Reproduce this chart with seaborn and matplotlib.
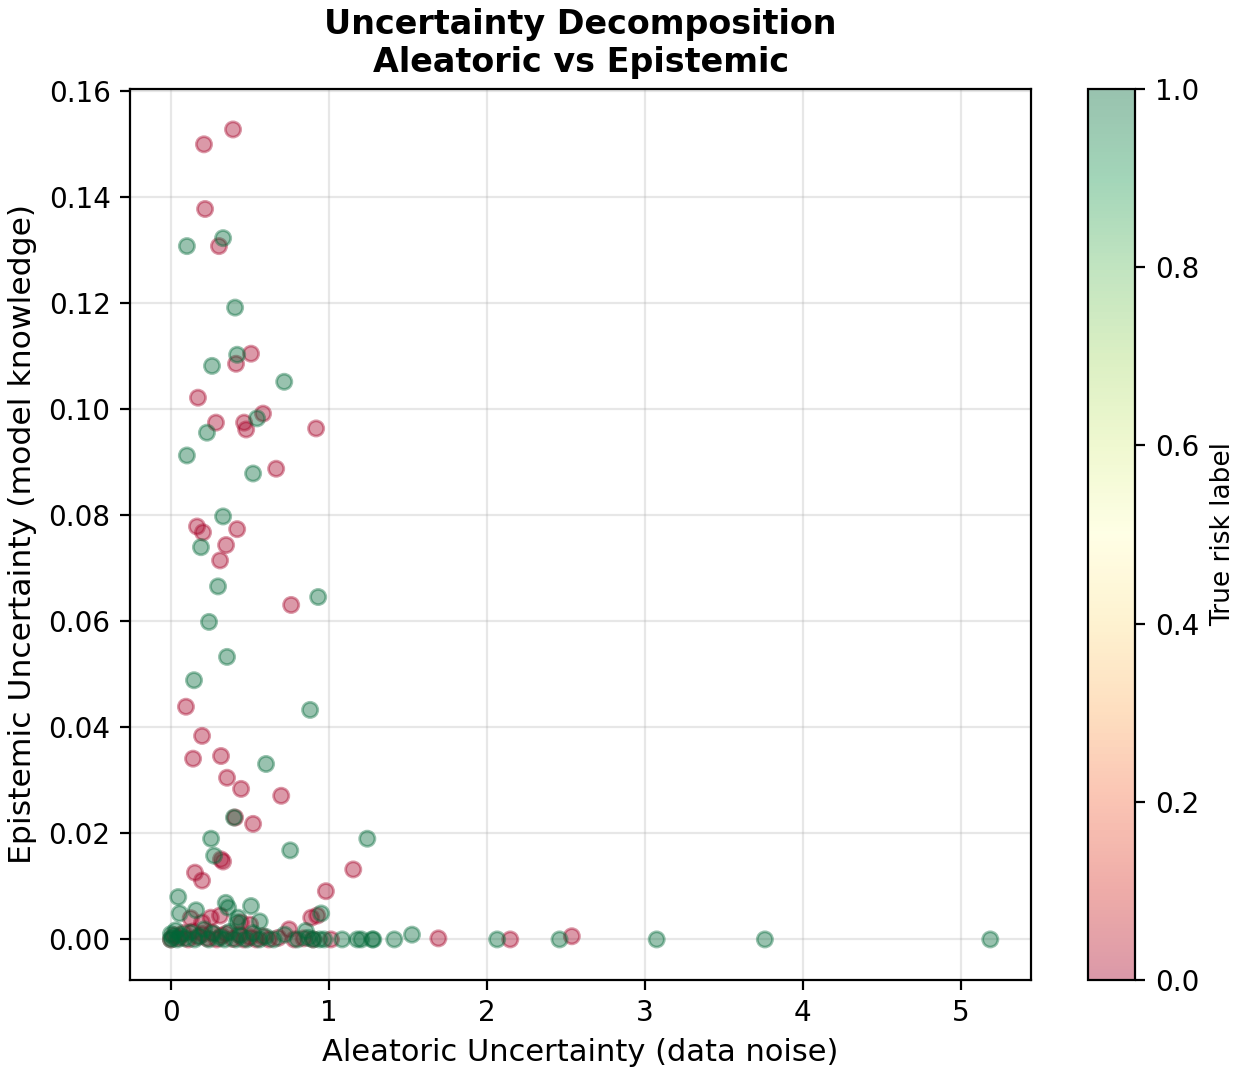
import numpy as np
import pandas as pd
import matplotlib
matplotlib.use("Agg")
import matplotlib.pyplot as plt
import seaborn as sns
from matplotlib.colors import Normalize
from matplotlib.cm import ScalarMappable

# ---- data ----
# label 0 (red)
x_red = [0.393, 0.209, 0.216, 0.304, 0.171, 0.507, 0.412, 0.285, 0.463, 0.476,
         0.583, 0.919, 0.666, 0.165, 0.203, 0.419, 0.349, 0.311, 0.761, 0.095,
         0.197, 0.140, 0.317, 0.355, 0.444, 0.698, 0.406, 0.520, 1.154, 0.317,
         0.330, 0.152, 0.197, 0.981, 0.888, 0.926, 1.693, 2.148, 2.538,
         0.125, 0.252, 0.311, 0.442, 0.501, 0.197, 0.748,
         0.00, 0.02, 0.05, 0.08, 0.11, 0.14, 0.17, 0.20, 0.23, 0.26, 0.29, 0.32,
         0.35, 0.39, 0.43, 0.46, 0.50, 0.54, 0.58, 0.62, 0.68, 0.78, 0.84,
         0.90, 1.013]
y_red = [0.1528, 0.1500, 0.1378, 0.1308, 0.1022, 0.1105, 0.1086, 0.0975, 0.0975, 0.0962,
         0.0992, 0.0964, 0.0888, 0.0779, 0.0768, 0.0774, 0.0744, 0.0715, 0.0631, 0.0439,
         0.0384, 0.0341, 0.0346, 0.0305, 0.0284, 0.0271, 0.0230, 0.0218, 0.0132, 0.0151,
         0.0147, 0.0126, 0.0111, 0.0091, 0.0041, 0.0045, 0.0002, 0.0000, 0.0006,
         0.0040, 0.0041, 0.0045, 0.0032, 0.0028, 0.0032, 0.0019,
         0.0000, 0.0008, 0.0003, 0.0012, 0.0000, 0.0015, 0.0005, 0.0010, 0.0002, 0.0013,
         0.0000, 0.0007, 0.0011, 0.0001, 0.0009, 0.0000, 0.0004, 0.0000, 0.0006, 0.0000,
         0.0003, 0.0000, 0.0002, 0.0000, 0.0000]

# label 1 (green)
x_green = [0.101, 0.330, 0.406, 0.260, 0.419, 0.717, 0.228, 0.545, 0.101, 0.520,
           0.330, 0.190, 0.298, 0.932, 0.241, 0.355, 0.146, 0.881, 0.602, 0.399,
           0.254, 1.243, 0.755, 0.273, 0.046, 0.347, 0.507, 0.055, 0.159, 0.362,
           0.425, 0.562, 0.419, 0.951, 0.854,
           1.084, 1.180, 1.205, 1.275, 1.281, 1.414, 1.526, 2.065, 2.460, 3.075,
           3.760, 5.187,
           0.00, 0.00, 0.01, 0.03, 0.04, 0.06, 0.09, 0.12, 0.15, 0.18, 0.21, 0.24,
           0.27, 0.31, 0.34, 0.37, 0.41, 0.44, 0.48, 0.52, 0.56, 0.60, 0.65, 0.72,
           0.80, 0.87, 0.90, 0.94, 0.97]
y_green = [0.1308, 0.1323, 0.1192, 0.1082, 0.1103, 0.1052, 0.0956, 0.0983, 0.0913, 0.0879,
           0.0798, 0.0740, 0.0666, 0.0646, 0.0599, 0.0533, 0.0489, 0.0433, 0.0331, 0.0230,
           0.0190, 0.0190, 0.0168, 0.0158, 0.0080, 0.0069, 0.0063, 0.0049, 0.0055, 0.0060,
           0.0041, 0.0034, 0.0032, 0.0049, 0.0016,
           0.0000, 0.0000, 0.0000, 0.0000, 0.0000, 0.0000, 0.0009, 0.0000, 0.0000, 0.0000,
           0.0000, 0.0000,
           0.0000, 0.0010, 0.0004, 0.0017, 0.0000, 0.0008, 0.0002, 0.0013, 0.0000, 0.0006,
           0.0019, 0.0000, 0.0011, 0.0003, 0.0000, 0.0014, 0.0000, 0.0007, 0.0000, 0.0012,
           0.0000, 0.0005, 0.0000, 0.0009, 0.0000, 0.0003, 0.0000, 0.0000, 0.0000]

df = pd.DataFrame({
    "aleatoric": x_red + x_green,
    "epistemic": y_red + y_green,
    "label": [0] * len(x_red) + [1] * len(x_green),
})

sns.set_style("ticks", {"text.color": "black", "axes.labelcolor": "black",
                        "xtick.color": "black", "ytick.color": "black",
                        "axes.edgecolor": "black", "grid.color": "#b0b0b0"})
plt.rcParams['font.family'] = ['DejaVu Sans']

fig = plt.figure(figsize=(6.19, 5.335), dpi=200)
ax = fig.add_axes([0.105, 0.0816, 0.728, 0.835])
cax = fig.add_axes([0.879, 0.0816, 0.038, 0.835])

sns.scatterplot(data=df, x="aleatoric", y="epistemic", hue="label",
                palette="RdYlGn", hue_norm=(0, 1), alpha=0.4, s=30,
                edgecolor="face", linewidth=1.0, legend=False, ax=ax)

ax.grid(True, alpha=0.3)
ax.set_xlabel("Aleatoric Uncertainty (data noise)", fontsize=11)
ax.set_ylabel("Epistemic Uncertainty (model knowledge)", fontsize=11.3)
ax.set_title("Uncertainty Decomposition\nAleatoric vs Epistemic",
             fontsize=12, fontweight="bold")
ax.tick_params(labelsize=10)
ax.margins(0.05)

sm = ScalarMappable(norm=Normalize(0, 1), cmap="RdYlGn")
cb = fig.colorbar(sm, cax=cax, alpha=0.4)
cb.set_label("True risk label", fontsize=9.5)
cb.ax.tick_params(labelsize=10)

fig.savefig("out.png", dpi=200)
